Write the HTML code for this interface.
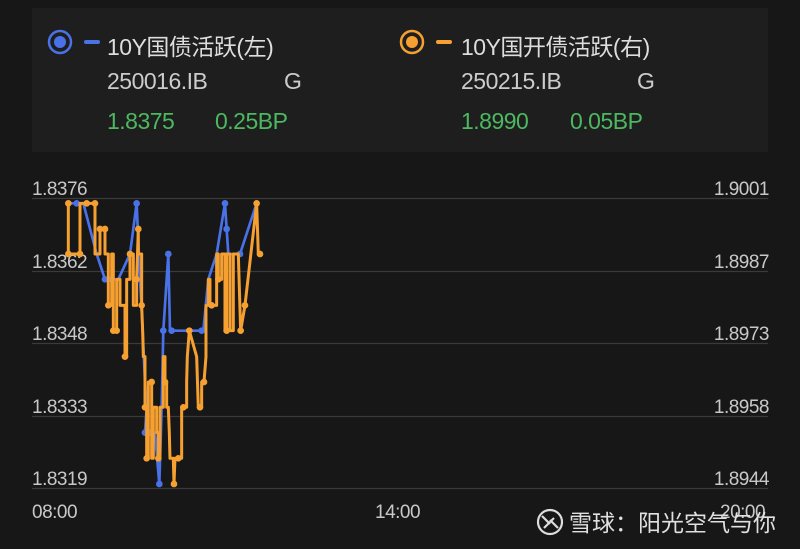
<!DOCTYPE html>
<html><head><meta charset="utf-8"><style>
body{margin:0;width:800px;height:549px;background:#171717;overflow:hidden;font-family:"Liberation Sans","Noto Sans CJK SC",sans-serif;color:#d0d0d0;position:relative}
.p{position:absolute;left:32px;top:8px;width:736px;height:144px;background:#1e1e1e}
.t{position:absolute;white-space:nowrap}
.g{color:#4cb860}
.h{font-size:23px;letter-spacing:-0.5px}
</style></head><body>
<div class="p"></div>
<svg class="t" style="left:46px;top:29px" width="30" height="26"><circle cx="14" cy="13" r="11" fill="none" stroke="#4a72e8" stroke-width="2.5"/><circle cx="14" cy="13" r="6" fill="#4a72e8"/></svg>
<div class="t" style="left:84px;top:40px;width:16px;height:4px;background:#4a72e8;border-radius:2px"></div>
<div class="t h" style="left:107px;top:28px;color:#ddd">10Y国债活跃(左)</div>
<div class="t h" style="left:107px;top:68px;color:#ccc">250016.IB</div>
<div class="t h" style="left:284px;top:68px;color:#ccc">G</div>
<div class="t g h" style="left:107px;top:108px">1.8375</div>
<div class="t g h" style="left:215px;top:108px">0.25BP</div>
<svg class="t" style="left:398px;top:29px" width="30" height="26"><circle cx="14" cy="13" r="11" fill="none" stroke="#f5a030" stroke-width="2.5"/><circle cx="14" cy="13" r="6" fill="#f5a030"/></svg>
<div class="t" style="left:436px;top:40px;width:16px;height:4px;background:#f5a030;border-radius:2px"></div>
<div class="t h" style="left:461px;top:28px;color:#ddd">10Y国开债活跃(右)</div>
<div class="t h" style="left:461px;top:68px;color:#ccc">250215.IB</div>
<div class="t h" style="left:637px;top:68px;color:#ccc">G</div>
<div class="t g h" style="left:461px;top:108px">1.8990</div>
<div class="t g h" style="left:570px;top:108px">0.05BP</div>

<svg class="t" style="left:0;top:0" width="800" height="549">
<g stroke="#3a3a3a" stroke-width="1.2">
<line x1="32" x2="768" y1="198.5" y2="198.5"/><line x1="32" x2="768" y1="271.5" y2="271.5"/><line x1="32" x2="768" y1="343.5" y2="343.5"/><line x1="32" x2="768" y1="416.5" y2="416.5"/><line x1="32" x2="768" y1="488.5" y2="488.5"/>
</g>
<g font-size="19" fill="#c8c8c8" font-family="Liberation Sans,sans-serif" letter-spacing="-0.5">
<text x="32" y="195">1.8376</text><text x="32" y="268">1.8362</text><text x="32" y="340">1.8348</text><text x="32" y="413">1.8333</text><text x="32" y="485">1.8319</text>
<text x="769" y="195" text-anchor="end">1.9001</text><text x="769" y="268" text-anchor="end">1.8987</text><text x="769" y="340" text-anchor="end">1.8973</text><text x="769" y="413" text-anchor="end">1.8958</text><text x="769" y="485" text-anchor="end">1.8944</text>
<text x="32" y="518">08:00</text><text x="375" y="518">14:00</text><text x="720" y="518">20:00</text>
</g>
<g transform="translate(30,180) scale(0.3333)">
<polyline fill="none" stroke="#4a72e8" stroke-width="8" stroke-linejoin="round" points="115,70 140,70 160,70 200,222 225,298 245,298 265,298 300,222 320,70 330,298 338,452 345,606 350,682 345,758 375,758 388,912 395,682 400,452 415,222 420,452 480,452 520,452 535,298 560,222 585,70 590,147 595,222 630,222 680,70"/>
<g fill="#4a72e8"><circle cx="140" cy="70" r="10"/><circle cx="320" cy="70" r="10"/><circle cx="225" cy="298" r="10"/><circle cx="245" cy="298" r="10"/><circle cx="415" cy="222" r="10"/><circle cx="388" cy="912" r="10"/><circle cx="345" cy="758" r="10"/><circle cx="360" cy="758" r="10"/><circle cx="400" cy="452" r="10"/><circle cx="425" cy="452" r="10"/><circle cx="515" cy="452" r="10"/><circle cx="585" cy="70" r="10"/><circle cx="590" cy="147" r="10"/><circle cx="630" cy="222" r="10"/></g>
<polyline fill="none" stroke="#f5a030" stroke-width="9" stroke-linejoin="round" points="115,70 115,222 150,222 150,70 195,70 195,222 210,222 210,147 225,147 225,222 235,222 235,376 245,376 245,222 250,222 250,452 260,452 260,298 270,298 270,376 285,376 285,530 290,530 290,298 300,298 300,222 310,222 310,376 320,376 320,298 325,147 325,222 335,222 335,376 338,452 340,530 345,530 345,682 350,682 350,835 355,835 355,606 365,606 365,835 370,835 370,682 380,682 380,758 385,758 385,835 390,835 390,682 400,682 400,530 405,530 405,606 410,606 410,682 415,682 418,758 420,835 430,835 432,912 435,835 455,835 455,682 470,682 470,606 472,530 478,452 500,530 505,682 515,682 515,606 522,606 528,530 528,376 535,376 535,298 540,298 540,376 560,376 560,222 565,222 565,298 575,298 575,222 585,222 585,452 590,452 590,222 600,222 600,452 610,452 610,222 625,222 632,452 645,376 680,70 685,222 695,222"/>
<g fill="#f5a030"><circle cx="115" cy="70" r="10"/><circle cx="115" cy="222" r="10"/><circle cx="150" cy="222" r="10"/><circle cx="170" cy="70" r="10"/><circle cx="195" cy="70" r="10"/><circle cx="210" cy="147" r="10"/><circle cx="225" cy="147" r="10"/><circle cx="235" cy="376" r="10"/><circle cx="250" cy="452" r="10"/><circle cx="260" cy="452" r="10"/><circle cx="285" cy="530" r="10"/><circle cx="300" cy="222" r="10"/><circle cx="320" cy="298" r="10"/><circle cx="325" cy="147" r="10"/><circle cx="335" cy="376" r="10"/><circle cx="345" cy="682" r="10"/><circle cx="350" cy="835" r="10"/><circle cx="365" cy="606" r="10"/><circle cx="385" cy="835" r="10"/><circle cx="405" cy="606" r="10"/><circle cx="432" cy="912" r="10"/><circle cx="445" cy="835" r="10"/><circle cx="460" cy="682" r="10"/><circle cx="478" cy="452" r="10"/><circle cx="510" cy="682" r="10"/><circle cx="522" cy="606" r="10"/><circle cx="545" cy="376" r="10"/><circle cx="565" cy="298" r="10"/><circle cx="590" cy="452" r="10"/><circle cx="632" cy="452" r="10"/><circle cx="645" cy="376" r="10"/><circle cx="680" cy="70" r="10"/><circle cx="690" cy="222" r="10"/></g>
</g>
<g fill="none" stroke="#ddd" stroke-width="2.2"><circle cx="550" cy="522" r="12"/><path d="M542 516 L550 524 M550 520 L558 528 M544 528 L554 518"/></g>
<text x="569" y="531" font-size="23" fill="#e0e0e0" font-family="Liberation Sans,Noto Sans CJK SC,sans-serif">雪球：阳光空气与你</text>
</svg>
</body></html>
